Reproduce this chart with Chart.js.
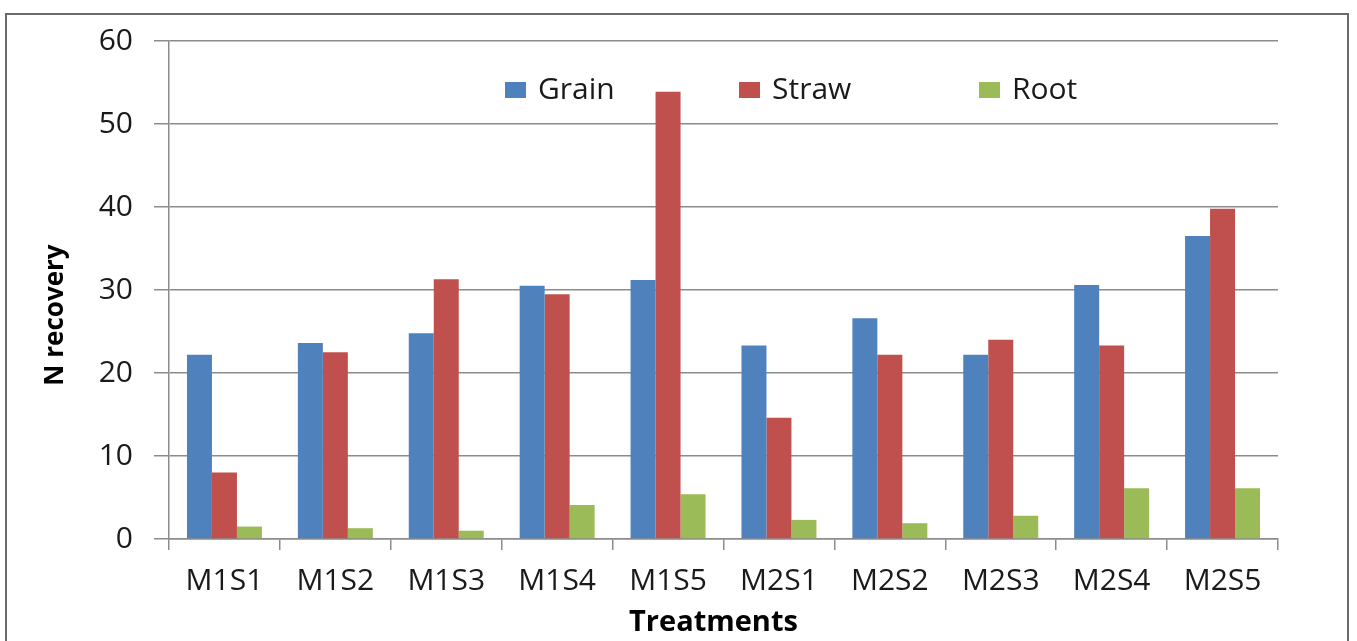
<!DOCTYPE html>
<html>
<head>
<meta charset="utf-8">
<script src="https://cdn.jsdelivr.net/npm/chart.js@4.4.1/dist/chart.umd.min.js"></script>
<style>
  html, body { margin: 0; padding: 0; background: #ffffff; }
  #wrap { position: relative; width: 1357px; height: 641px; overflow: hidden; }
  #frame { position: absolute; left: 5px; top: 13px; width: 1344px; height: 660px; border: 2px solid #6b6b6b; box-sizing: border-box; }
  canvas { position: absolute; left: 0; top: 0; }
</style>
</head>
<body>
<div id="wrap">
  <div id="frame"></div>
  <canvas id="c" width="1357" height="641"></canvas>
</div>
<script>
const categories = ["M1S1", "M1S2", "M1S3", "M1S4", "M1S5", "M2S1", "M2S2", "M2S3", "M2S4", "M2S5"];
const grain = [22.2, 23.6, 24.8, 30.5, 31.2, 23.3, 26.6, 22.2, 30.6, 36.5];
const straw = [8.0, 22.5, 31.3, 29.5, 53.9, 14.6, 22.2, 24.0, 23.3, 39.8];
const root  = [1.5, 1.3, 1.0, 4.1, 5.4, 2.3, 1.9, 2.8, 6.1, 6.1];
const seriesNames = ["Grain", "Straw", "Root"];
const yTicks = [0, 10, 20, 30, 40, 50, 60];
const xTitle = "Treatments";
const yTitle = "N recovery";

const colors = ["#4F81BD", "#C0504D", "#9BBB59"];
const FONT = "'Open Sans', 'Liberation Sans', sans-serif";

const insideLegend = {
  id: 'insideLegend',
  afterDraw(chart) {
    const ctx = chart.ctx;
    const a = chart.chartArea;
    const xs = [a.left + 336, a.left + 570, a.left + 810];
    const cy = a.top + 49;
    ctx.save();
    ctx.font = "30px " + FONT;
    ctx.textBaseline = 'middle';
    ctx.textAlign = 'left';
    chart.data.datasets.forEach((ds, i) => {
      ctx.fillStyle = ds.backgroundColor;
      ctx.fillRect(xs[i], cy - 8, 21, 16);
      ctx.fillStyle = '#1a1a1a';
      ctx.fillText(ds.label, xs[i] + 33, cy);
    });
    // x axis title
    ctx.font = "bold 29px " + FONT;
    ctx.textAlign = 'center';
    ctx.fillStyle = '#000';
    ctx.fillText(xTitle, (a.left + a.right) / 2 - 10, a.bottom + 84);
    // y axis title
    ctx.translate(a.left - 113, (a.top + a.bottom) / 2 + 25);
    ctx.rotate(-Math.PI / 2);
    ctx.font = "bold 26px " + FONT;
    ctx.fillText(yTitle, 0, 0);
    ctx.restore();
  }
};

new Chart(document.getElementById('c'), {
  type: 'bar',
  data: {
    labels: categories,
    datasets: [
      { label: seriesNames[0], data: grain, backgroundColor: colors[0] },
      { label: seriesNames[1], data: straw, backgroundColor: colors[1] },
      { label: seriesNames[2], data: root,  backgroundColor: colors[2] }
    ]
  },
  options: {
    responsive: false,
    animation: false,
    devicePixelRatio: 1,
    layout: { padding: { left: 0, right: 79, top: 41, bottom: 0 } },
    plugins: { legend: { display: false }, tooltip: { enabled: false } },
    datasets: { bar: { categoryPercentage: 0.676, barPercentage: 1.0 } },
    scales: {
      x: {
        afterFit(s) { s.height = 102; },
        grid: { display: true, drawOnChartArea: false, drawTicks: true, tickLength: 11, color: '#8c8c8c', lineWidth: 1.5, offset: true },
        border: { display: true, color: '#8c8c8c', width: 1.5 },
        ticks: { padding: 13, color: '#1a1a1a', font: { family: FONT, size: 30 }, maxRotation: 0, autoSkip: false },
        title: { display: false }
      },
      y: {
        min: 0, max: 60,
        afterFit(s) { s.width = 169; },
        afterBuildTicks(s) { s.ticks = yTicks.map(v => ({ value: v })); },
        grid: { color: '#8c8c8c', lineWidth: 1.5, tickLength: 15, drawTicks: true },
        border: { display: true, color: '#8c8c8c', width: 1.5 },
        ticks: { padding: 21, color: '#1a1a1a', font: { family: FONT, size: 30 } }
      }
    }
  },
  plugins: [insideLegend]
});
</script>
</body>
</html>
